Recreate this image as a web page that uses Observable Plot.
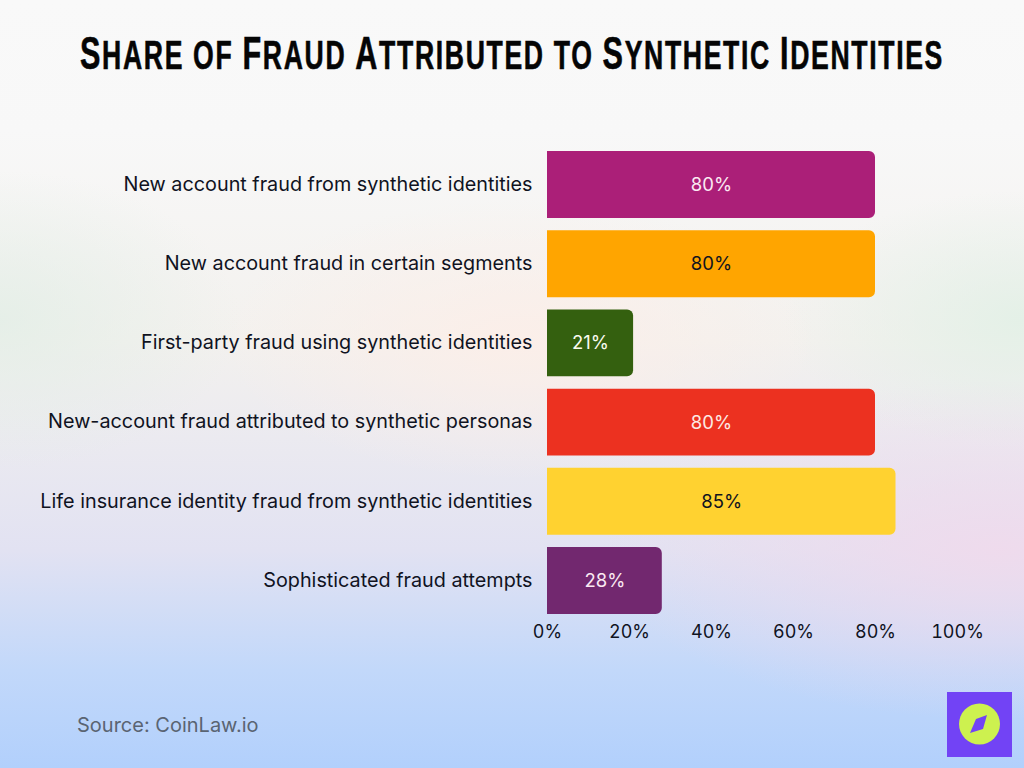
<!DOCTYPE html>
<html><head><meta charset="utf-8">
<script src="https://cdn.jsdelivr.net/npm/d3@7"></script>
<script src="https://cdn.jsdelivr.net/npm/@observablehq/plot@0.6"></script>
<style>
html,body{margin:0;padding:0;width:1024px;height:768px;overflow:hidden}
#page{position:relative;width:1024px;height:768px;overflow:hidden;
background:
 radial-gradient(ellipse 400px 170px at 1000px 550px, rgba(240,218,236,.9), rgba(240,218,236,0)),
 radial-gradient(ellipse 300px 140px at 520px 340px, rgba(252,238,232,.9), rgba(252,238,232,0)),
 radial-gradient(ellipse 240px 150px at 0px 320px, rgba(226,238,230,.8), rgba(226,238,230,0)),
 radial-gradient(ellipse 240px 130px at 1024px 320px, rgba(226,240,230,.9), rgba(226,240,230,0)),
 linear-gradient(180deg,#f9f9f9 0px,#f8f8f8 130px,#f3f1ee 340px,#e2e2f2 550px,#c2d8fa 670px,#b2d0fc 768px);}
#title{position:absolute;left:80px;top:23px;height:60px;line-height:60px;
 font-family:"Liberation Sans",sans-serif;font-weight:700;font-size:40px;color:#050505;white-space:nowrap;
 transform-origin:0 50%;-webkit-text-stroke:.6px #050505}
#title b{font-size:46px}
#chart{position:absolute;left:0;top:130px}
#source{position:absolute;left:77px;top:712px;font:20px/26px Inter,sans-serif;color:#5a6472}
#logo{position:absolute;left:947px;top:692px}
</style></head><body>
<div id="page">
<div id="title"></div>
<div id="chart"></div>
<div id="source">Source: CoinLaw.io</div>
<svg id="logo" width="65" height="65" viewBox="0 0 65 65"><rect width="65" height="65" fill="#7243f5"/><circle cx="32.5" cy="32" r="20.5" fill="#cdf14f"/><path d="M40 23 L29 27 L23 41 L36 37 Z" fill="#7243f5"/></svg>
</div>
<script>
const titleText = "Share of Fraud Attributed to Synthetic Identities";
const categories = ["New account fraud from synthetic identities","New account fraud in certain segments","First-party fraud using synthetic identities","New-account fraud attributed to synthetic personas","Life insurance identity fraud from synthetic identities","Sophisticated fraud attempts"];
const shares = [80,80,21,80,85,28];
const barColors = ["#ab1f78","#ffa500","#34600f","#ec3120","#ffd230","#72286f"];
const labelColors = ["#fbe9f2","#10131f","#fbfbf0","#fde9e4","#10131f","#fbe9f2"];
const ticks = [0,20,40,60,80,100];

const titleEl = document.getElementById("title");
titleEl.innerHTML = titleText.replace(/[a-z]+/g, m=>m.toUpperCase()).split("").map((ch,i)=>
  /[A-Z]/.test(titleText[i]) ? "<b>"+ch+"</b>" : ch).join("");
titleEl.style.letterSpacing = "2.5px";
titleEl.style.transform = "scaleX(" + (864/titleEl.getBoundingClientRect().width) + ")";

const rows = categories.map((c,i)=>({c,v:shares[i],fill:barColors[i],ink:labelColors[i]}));
const plot = Plot.plot({
  width:1024,height:530,
  marginLeft:547,marginRight:67,marginTop:21,marginBottom:46,
  style:{background:"transparent",fontFamily:"Inter, sans-serif",fontSize:"19.8px",color:"#10131f"},
  x:{domain:[0,100],label:null},
  y:{domain:categories,label:null,paddingInner:0.155,paddingOuter:0,round:false},
  marks:[
    Plot.axisY({label:null,tickSize:0,tickPadding:15,fontSize:19.8,dy:-0.5}),
    Plot.axisX({ticks,tickFormat:d=>d+"%",label:null,tickSize:0,tickPadding:11,fontSize:18}),
    Plot.barX(rows,{x1:0,x2:"v",y:"c",fill:d=>d.fill,rx2:6}),
    Plot.text(rows,{x:d=>d.v/2,y:"c",text:d=>d.v+"%",fill:d=>d.ink,fontSize:18.5})
  ]
});
document.getElementById("chart").appendChild(plot);
</script>
</body></html>
